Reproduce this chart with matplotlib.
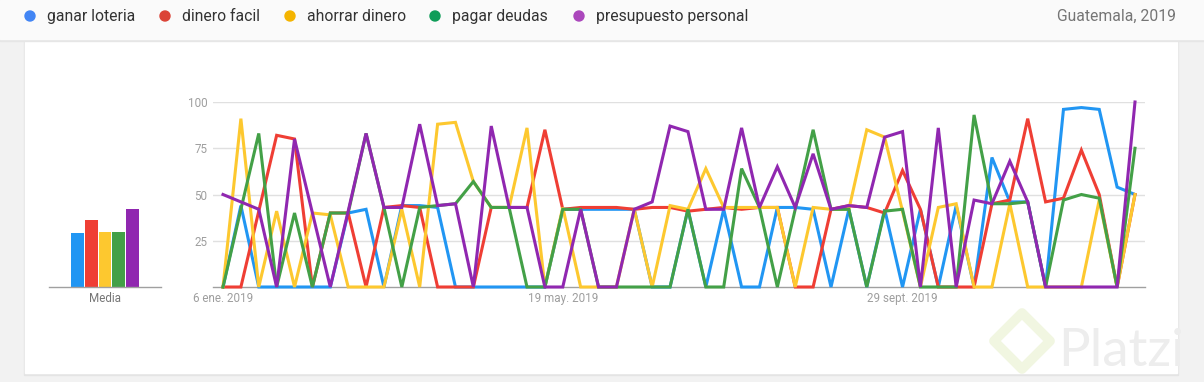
import matplotlib
matplotlib.use("Agg")
import matplotlib.pyplot as plt
from matplotlib.patches import Rectangle, Circle, Polygon

plt.rcParams['font.family'] = ['Roboto', 'DejaVu Sans']

# ---------------- data ----------------
series_names = ["ganar loteria", "dinero facil", "ahorrar dinero", "pagar deudas", "presupuesto personal"]
region_label = "Guatemala, 2019"

ganar_loteria = [0, 44, 0, 0, 0, 0, 0, 40, 42, 0, 44, 44, 43, 0, 0, 0, 0, 0, 0, 42,
                 42, 42, 42, 42, 0, 0, 42, 0, 42, 0, 0, 43, 43, 42, 0, 42, 0, 42, 0, 42,
                 0, 44, 0, 70, 46, 46, 0, 96, 97, 96, 54, 50]
dinero_facil = [0, 0, 41, 82, 80, 0, 40, 40, 0, 43, 44, 43, 0, 0, 0, 43, 43, 43, 85, 42,
                43, 43, 43, 42, 43, 43, 41, 42, 43, 42, 43, 43, 0, 0, 42, 44, 43, 40, 63, 42,
                0, 0, 0, 45, 47, 91, 46, 48, 74, 50, 0, 50]
ahorrar_dinero = [0, 91, 0, 41, 0, 40, 39, 0, 0, 0, 42, 0, 88, 89, 57, 43, 43, 86, 0, 43,
                  0, 0, 0, 42, 0, 44, 42, 64, 43, 43, 43, 43, 0, 43, 42, 42, 85, 81, 41, 0,
                  43, 45, 0, 0, 45, 0, 0, 0, 0, 47, 0, 50]
pagar_deudas = [0, 42, 83, 0, 40, 0, 40, 40, 83, 43, 0, 43, 44, 45, 57, 43, 43, 0, 0, 42,
                42, 0, 0, 0, 0, 0, 42, 0, 0, 64, 43, 0, 42, 85, 42, 42, 0, 41, 42, 0,
                0, 0, 93, 45, 45, 46, 0, 47, 50, 48, 0, 75]
presupuesto_personal = [50, 46, 42, 0, 80, 40, 0, 41, 83, 43, 43, 88, 44, 45, 0, 87, 43, 43, 0, 0,
                        42, 0, 0, 42, 46, 87, 84, 42, 42, 86, 43, 65, 43, 72, 42, 44, 43, 81, 84, 0,
                        86, 0, 47, 45, 68, 46, 0, 0, 0, 0, 0, 100]

media_values = [29, 36, 30, 30, 42]

x_tick_positions = [0, 19, 38]
x_tick_labels = ["6 ene. 2019", "19 may. 2019", "29 sept. 2019"]
y_ticks = [25, 50, 75, 100]

line_colors = ["#2196f3", "#ef3e34", "#fdc82f", "#43a047", "#9027b0"]
dot_colors = ["#4285f4", "#db4437", "#f4b400", "#0f9d58", "#ab47bc"]

all_series = [ganar_loteria, dinero_facil, ahorrar_dinero, pagar_deudas, presupuesto_personal]

# ---------------- figure ----------------
W, H = 1204, 382
fig = plt.figure(figsize=(W / 100, H / 100), dpi=100)

# background canvas in pixel coordinates
bg = fig.add_axes([0, 0, 1, 1], zorder=0)
bg.set_xlim(0, W)
bg.set_ylim(H, 0)
bg.axis("off")
bg.add_patch(Rectangle((0, 0), W, H, color="#f2f2f2", zorder=0))
# card with soft shadow
bg.add_patch(Rectangle((24, 40), 1154, 335, color="#e4e4e4", zorder=1))
bg.add_patch(Rectangle((25, 40), 1152, 333, color="#ffffff", zorder=2))
# header bar with shadow
bg.add_patch(Rectangle((0, 38), W, 3, color="#e6e6e6", zorder=3))
bg.add_patch(Rectangle((0, 0), W, 39, color="#fafafa", zorder=4))

# legend in header
legend_x = [30, 165, 290, 435, 579]
for xd, name, col in zip(legend_x, series_names, dot_colors):
    bg.add_patch(Circle((xd, 16), 5, color=col, zorder=5))
    bg.text(xd + 17, 16.5, name, fontsize=11.3, color="#333333", va="center", ha="left", zorder=6)
bg.text(1176, 16.5, region_label, fontsize=11.3, color="#757575", va="center", ha="right", zorder=6)

# Platzi watermark
bg.add_patch(Polygon([(1022, 313), (1050, 341), (1022, 369), (994, 341)], closed=True,
                     fill=False, edgecolor="#f1f6e1", linewidth=7, joinstyle="round", zorder=3))
bg.text(1058, 366, "Platzi", fontsize=38, color="#ededed", ha="left", va="baseline",
        family=["Lato", "DejaVu Sans"], zorder=3)

# ---------------- main line chart ----------------
px0, px1 = 213, 1145
py_top, py_bot = 102, 287
ax = fig.add_axes([px0 / W, (H - py_bot) / H, (px1 - px0) / W, (py_bot - py_top) / H], zorder=5)
ax.patch.set_alpha(0)
step = (1135 - 223) / 51.0
ax.set_xlim(-(223 - px0) / step, 51 + (px1 - 1135) / step)
ax.set_ylim(0, 100)

x = list(range(len(ganar_loteria)))
for vals, col in zip(all_series, line_colors):
    ax.plot(x, vals, color=col, linewidth=2.2, solid_joinstyle="miter", clip_on=False, zorder=3)

ax.set_yticks(y_ticks)
ax.set_yticklabels([str(v) for v in y_ticks])
ax.set_xticks(x_tick_positions)
ax.set_xticklabels(x_tick_labels)
ax.tick_params(axis="both", length=0, labelsize=8.4, labelcolor="#9e9e9e")
ax.tick_params(axis="y", pad=4)
ax.tick_params(axis="x", pad=3.5)
ax.grid(axis="y", color="#e0e0e0", linewidth=1)
ax.set_axisbelow(True)
for s in ["top", "right", "left"]:
    ax.spines[s].set_visible(False)
ax.spines["bottom"].set_color("#a0a0a0")
ax.spines["bottom"].set_linewidth(1)

# ---------------- media bars ----------------
mx0, mx1 = 49, 161
axm = fig.add_axes([mx0 / W, (H - py_bot) / H, (mx1 - mx0) / W, (py_bot - py_top) / H], zorder=5)
axm.patch.set_alpha(0)
bstep = 13.75
axm.set_xlim(-(77.5 - mx0) / bstep, 4 + (mx1 - 132.5) / bstep)
axm.set_ylim(0, 100)
axm.bar(range(len(media_values)), media_values, width=0.93, color=line_colors)
axm.set_xticks([2])
axm.set_xticklabels(["Media"])
axm.set_yticks([])
axm.tick_params(axis="x", length=0, labelsize=8.4, labelcolor="#757575", pad=3.5)
for s in ["top", "right", "left"]:
    axm.spines[s].set_visible(False)
axm.spines["bottom"].set_color("#a0a0a0")
axm.spines["bottom"].set_linewidth(1)

fig.savefig("out.png", dpi=100)
